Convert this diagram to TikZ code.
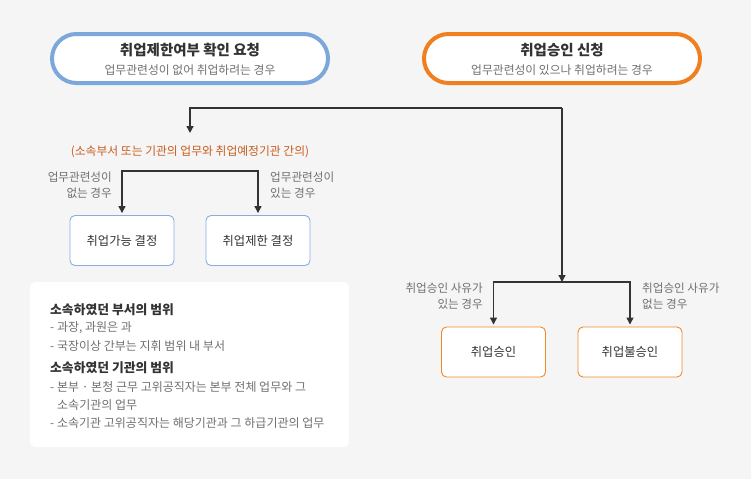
\documentclass[tikz,border=0pt]{standalone}
\usepackage{fontspec}
\setmainfont{Noto Sans CJK KR}
\usetikzlibrary{arrows.meta}
\definecolor{bg}{HTML}{F5F5F5}
\definecolor{pillblue}{HTML}{7BA7DA}
\definecolor{pillorange}{HTML}{EF7F1F}
\definecolor{boxblue}{HTML}{86AFE0}
\definecolor{boxorange}{HTML}{F0882C}
\definecolor{txtdark}{HTML}{333333}
\definecolor{txtgray}{HTML}{707070}
\definecolor{noteorange}{HTML}{C85C1E}
\definecolor{linedark}{HTML}{333333}
\begin{document}
\begin{tikzpicture}[x=1pt,y=-1pt,
  pill/.style={draw, line width=4pt, fill=white, minimum width=276pt, minimum height=49pt, rounded corners=24.5pt, inner sep=0pt},
  ptitle/.style={font=\fontsize{14.5}{16}\selectfont\bfseries, text=txtdark, inner sep=0pt},
  psub/.style={font=\fontsize{11.8}{14}\selectfont, text=txtgray, inner sep=0pt},
  res/.style={draw, line width=0.9pt, fill=white, minimum width=104pt, minimum height=50pt, rounded corners=5pt, font=\fontsize{12.3}{14}\selectfont, text=txtdark, inner sep=0pt},
  lbl/.style={font=\fontsize{11.6}{16}\selectfont, text=txtgray, inner sep=0pt},
  arr/.style={draw=linedark, line width=1.3pt, -{Triangle[length=7pt,width=7pt]}},
  infoh/.style={font=\fontsize{12.8}{14}\selectfont\bfseries, text=txtdark, inner sep=0pt, anchor=west},
  infot/.style={font=\fontsize{12}{14}\selectfont, text=txtgray, inner sep=0pt, anchor=west}
]
\fill[bg] (0,0) rectangle (751,479);
\useasboundingbox (0,0) rectangle (751,479);

% top pills
\node[pill, draw=pillblue] (req) at (190,58.5) {};
\node[ptitle] (reqt) at ([yshift=8.5pt]req.center) {취업제한여부 확인 요청};
\node[psub] (reqs) at ([yshift=-11.5pt]req.center) {업무관련성이 없어 취업하려는 경우};

\node[pill, draw=pillorange] (app) at (562,58.5) {};
\node[ptitle] (appt) at ([yshift=8.5pt]app.center) {취업승인 신청};
\node[psub] (apps) at ([yshift=-11.5pt]app.center) {업무관련성이 있으나 취업하려는 경우};

% junction
\coordinate (j0) at (562,108);

% left branch
\node[font=\fontsize{11.8}{14}\selectfont, text=noteorange, inner sep=0pt] (note) at (190,152) {(소속부서 또는 기관의 업무와 취업예정기관 간의)};
\coordinate (ntop) at (190,133);
\draw[arr] (j0) -| (ntop);

\coordinate (s1) at (190,171);
\node[res, draw=boxblue] (ok1) at (122,240.5) {취업가능 결정};
\node[res, draw=boxblue] (ng1) at (258,240.5) {취업제한 결정};
\draw[arr, shorten >=2pt] (s1) -| (ok1.north);
\draw[arr, shorten >=2pt] (s1) -| (ng1.north);
\node[lbl, align=right, anchor=east] (l1) at (112,185) {업무관련성이\\없는 경우};
\node[lbl, align=left, anchor=west] (l2) at (270,185) {업무관련성이\\있는 경우};

% right branch
\coordinate (s2) at (562,282);
\draw[arr] (j0) -- (s2);
\node[res, draw=boxorange] (ok2) at (493.5,352) {취업승인};
\node[res, draw=boxorange] (ng2) at (630,352) {취업불승인};
\draw[arr, shorten >=2pt] (s2) -| (ok2.north);
\draw[arr, shorten >=2pt] (s2) -| (ng2.north);
\node[lbl, align=right, anchor=east] (l3) at (483,296) {취업승인 사유가\\있는 경우};
\node[lbl, align=left, anchor=west] (l4) at (642,296) {취업승인 사유가\\없는 경우};

% info box
\node[fill=white, rounded corners=6pt, minimum width=319pt, minimum height=165pt, inner sep=0pt] (info) at (189.5,364.5) {};
\node[infoh] (h1) at (50,310) {소속하였던 부서의 범위};
\node[infot] (t1) at (50,328) {- 과장, 과원은 과};
\node[infot] (t2) at (50,346) {- 국장이상 간부는 지휘 범위 내 부서};
\node[infoh] (h2) at (50,368) {소속하였던 기관의 범위};
\node[infot] (t3) at (50,387) {- 본부 · 본청 근무 고위공직자는 본부 전체 업무와 그};
\node[infot] (t4) at (57,405) {소속기관의 업무};
\node[infot] (t5) at (50,423) {- 소속기관 고위공직자는 해당기관과 그 하급기관의 업무};
\end{tikzpicture}
\end{document}
